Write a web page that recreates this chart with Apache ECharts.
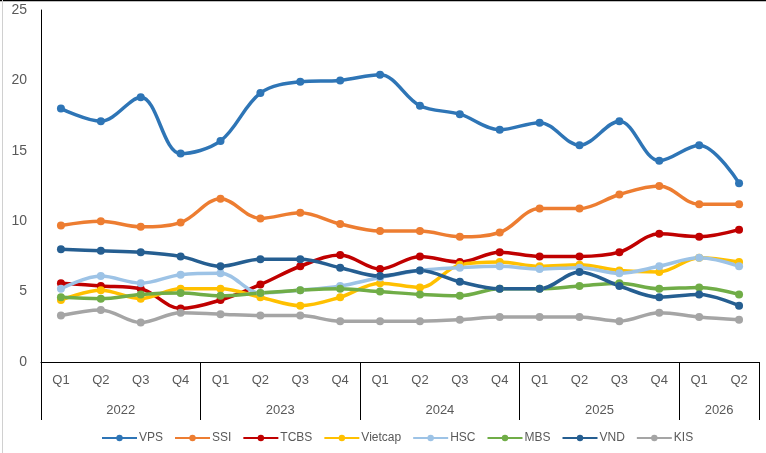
<!DOCTYPE html>
<html>
<head>
<meta charset="utf-8">
<script src="https://cdn.jsdelivr.net/npm/echarts@6/dist/echarts.min.js"></script>
<style>
  html, body { margin: 0; padding: 0; background: #fff; }
  #chart { width: 766px; height: 453px; }
</style>
</head>
<body>
<div id="chart"></div>
<script>
// quarters and years on the x axis
const quarters = ['Q1','Q2','Q3','Q4','Q1','Q2','Q3','Q4','Q1','Q2','Q3','Q4','Q1','Q2','Q3','Q4','Q1','Q2'];
const years = ['2022','2023','2024','2025','2026'];
const yearCenters = [2, 6, 10, 14, 17];
const yearBounds = [0, 4, 8, 12, 16, 18];

// values
const vps     = [18.0, 17.1, 18.8, 14.8, 15.7, 19.1, 19.9, 20.0, 20.4, 18.2, 17.6, 16.5, 17.0, 15.4, 17.1, 14.3, 15.4, 12.7];
const ssi     = [9.7, 10.0, 9.6, 9.9, 11.6, 10.2, 10.6, 9.8, 9.3, 9.3, 8.9, 9.2, 10.9, 10.9, 11.9, 12.5, 11.2, 11.2];
const tcbs    = [5.6, 5.4, 5.2, 3.8, 4.4, 5.5, 6.8, 7.6, 6.6, 7.5, 7.1, 7.8, 7.5, 7.5, 7.8, 9.1, 8.9, 9.4];
const vietcap = [4.4, 5.1, 4.5, 5.2, 5.2, 4.6, 4.0, 4.6, 5.6, 5.3, 6.9, 7.1, 6.8, 6.9, 6.5, 6.4, 7.4, 7.1];
const hsc     = [5.2, 6.1, 5.6, 6.2, 6.3, 4.9, 5.1, 5.4, 6.0, 6.5, 6.7, 6.8, 6.6, 6.7, 6.3, 6.8, 7.4, 6.8];
const mbs     = [4.6, 4.5, 4.8, 4.9, 4.7, 4.9, 5.1, 5.2, 5.0, 4.8, 4.7, 5.2, 5.2, 5.4, 5.6, 5.2, 5.3, 4.8];
const vnd     = [8.0, 7.9, 7.8, 7.5, 6.8, 7.3, 7.3, 6.7, 6.1, 6.5, 5.7, 5.2, 5.2, 6.4, 5.4, 4.6, 4.8, 4.0];
const kis     = [3.3, 3.7, 2.8, 3.5, 3.4, 3.3, 3.3, 2.9, 2.9, 2.9, 3.0, 3.2, 3.2, 3.2, 2.9, 3.5, 3.2, 3.0];

const seriesDefs = [
  ['VPS', vps, '#2E75B6'],
  ['SSI', ssi, '#ED7D31'],
  ['TCBS', tcbs, '#C00000'],
  ['Vietcap', vietcap, '#FFC000'],
  ['HSC', hsc, '#9DC3E6'],
  ['MBS', mbs, '#70AD47'],
  ['VND', vnd, '#255E91'],
  ['KIS', kis, '#A5A5A5']
];

const font = '"Liberation Sans Narrow", "Liberation Sans", sans-serif';
const textColor = '#595959';

const chart = echarts.init(document.getElementById('chart'));
chart.setOption({
  animation: false,
  textStyle: { fontFamily: font },
  grid: { left: 41, right: 7, top: 10, bottom: 91 },
  legend: {
    bottom: 4,
    left: 96,
    itemWidth: 35,
    itemHeight: 8,
    itemGap: 11,
    textStyle: { fontSize: 12, color: textColor, fontFamily: font, padding: [0, 0, 0, -3] },
    data: seriesDefs.map(d => d[0])
  },
  xAxis: [
    {
      type: 'category',
      data: quarters,
      boundaryGap: true,
      axisLine: { lineStyle: { color: '#000', width: 1 } },
      axisTick: { show: false },
      axisLabel: { color: textColor, fontSize: 13, margin: 12, interval: 0 }
    },
    {
      type: 'value',
      position: 'bottom',
      min: 0,
      max: 18,
      splitLine: { show: false },
      axisLine: { show: false },
      axisTick: {
        show: true,
        customValues: yearBounds,
        length: 58,
        lineStyle: { color: '#000', width: 1 }
      },
      axisLabel: {
        customValues: yearCenters,
        color: textColor,
        fontSize: 13,
        margin: 42,
        formatter: v => years[yearCenters.indexOf(v)]
      }
    }
  ],
  yAxis: {
    type: 'value',
    min: 0,
    max: 25,
    interval: 5,
    splitLine: { show: false },
    axisLine: { show: true, lineStyle: { color: '#000', width: 1 } },
    axisTick: { show: false },
    axisLabel: { color: textColor, fontSize: 14, margin: 14 }
  },
  series: seriesDefs.map(([name, data, color]) => ({
    name: name,
    type: 'line',
    xAxisIndex: 0,
    data: data,
    smooth: 0.35,
    symbol: 'circle',
    symbolSize: 8,
    color: color,
    lineStyle: { width: 3.5, color: color },
    itemStyle: { color: color }
  })),
  graphic: [
    { type: 'line', shape: { x1: 0, y1: 0.5, x2: 766, y2: 0.5 }, style: { stroke: '#000', lineWidth: 1.5 } },
    { type: 'line', shape: { x1: 2.5, y1: 0, x2: 2.5, y2: 453 }, style: { stroke: '#d0d0d0', lineWidth: 1 } }
  ]
});
</script>
</body>
</html>
